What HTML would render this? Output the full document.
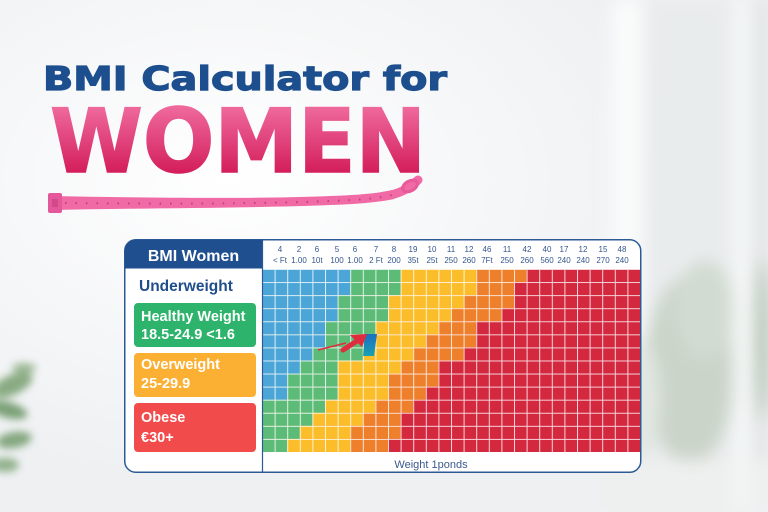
<!DOCTYPE html>
<html><head><meta charset="utf-8"><style>
html,body{margin:0;padding:0;background:#f1f2f4;width:768px;height:512px;overflow:hidden;}
svg{display:block;overflow:hidden;}
</style></head><body>
<svg width="768" height="512" viewBox="0 0 768 512" xmlns="http://www.w3.org/2000/svg">
<defs>
<filter id="b8" x="0" y="0" width="768" height="512" filterUnits="userSpaceOnUse"><feGaussianBlur stdDeviation="8"/></filter>
<filter id="b4" x="0" y="300" width="120" height="212" filterUnits="userSpaceOnUse"><feGaussianBlur stdDeviation="4"/></filter>
<radialGradient id="glow" cx="0.3" cy="0.35" r="0.6"><stop offset="0" stop-color="#ffffff"/><stop offset="1" stop-color="#eef0f2"/></radialGradient>
<linearGradient id="pink" x1="0" y1="108" x2="0" y2="172" gradientUnits="userSpaceOnUse"><stop offset="0" stop-color="#ee689c"/><stop offset="1" stop-color="#d41f5c"/></linearGradient>
<linearGradient id="teal" x1="0" y1="0" x2="0" y2="1"><stop offset="0" stop-color="#1d6ec2"/><stop offset="1" stop-color="#1aa2b2"/></linearGradient>
<pattern id="grid" patternUnits="userSpaceOnUse" x="262" y="269" width="12.6" height="13.07"><path d="M0 0.5H12.6M0.5 0V13.07" stroke="#ffffff" stroke-opacity="0.8" stroke-width="1" fill="none"/></pattern>
</defs>

<!-- background -->
<rect width="768" height="512" fill="url(#glow)"/>
<g filter="url(#b8)">
  <rect x="612" y="0" width="30" height="512" fill="#fafbfb"/>
  <rect x="645" y="0" width="88" height="512" fill="#e9eced"/>
  <rect x="733" y="0" width="20" height="512" fill="#f6f7f7"/>
  <rect x="753" y="0" width="15" height="512" fill="#e0e4e3"/>
  <ellipse cx="690" cy="370" rx="45" ry="95" fill="#cad4c9"/>
  <ellipse cx="705" cy="310" rx="30" ry="50" fill="#d2dbd1"/>
  <ellipse cx="762" cy="340" rx="6" ry="80" fill="#a7bba4"/>
  <ellipse cx="640" cy="400" rx="20" ry="60" fill="#e2e7e2"/>
  <rect x="600" y="460" width="168" height="52" fill="#eef0ef"/>
  <rect x="733" y="0" width="18" height="512" fill="#f4f6f6" opacity="0.7"/>
</g>
<g filter="url(#b4)" opacity="0.8">
  <ellipse cx="12" cy="385" rx="22" ry="10" fill="#6f9a66" transform="rotate(-25 12 385)"/>
  <ellipse cx="8" cy="410" rx="20" ry="8" fill="#5f8d58" transform="rotate(15 8 410)"/>
  <ellipse cx="14" cy="440" rx="18" ry="8" fill="#6a9563" transform="rotate(-10 14 440)"/>
  <ellipse cx="5" cy="465" rx="14" ry="7" fill="#7aa272"/>
  <ellipse cx="24" cy="368" rx="12" ry="5" fill="#86aa7e"/>
</g>

<!-- title -->
<text x="43" y="90" font-family="DejaVu Sans, Liberation Sans, sans-serif" font-weight="bold" font-size="33" fill="#1d4f8f" stroke="#1d4f8f" stroke-width="1.2" textLength="404" lengthAdjust="spacingAndGlyphs">BMI Calculator for</text>
<text x="50" y="172" font-family="DejaVu Sans, Liberation Sans, sans-serif" font-weight="bold" font-size="88" fill="url(#pink)" stroke="url(#pink)" stroke-width="1.5" textLength="376" lengthAdjust="spacingAndGlyphs">WOMEN</text>

<!-- tape measure -->
<path d="M52 196 C150 198 260 199 330 196 C360 195 380 193 392 190 L394 199 C380 202 360 204 330 205 C260 208 150 208 52 210 Z" fill="#f06aa6"/>
<path d="M385 196 C400 194 410 188 418 180" stroke="#f06aa6" stroke-width="9" fill="none" stroke-linecap="round"/>
<ellipse cx="410" cy="186" rx="8" ry="5" fill="none" stroke="#e85a9a" stroke-width="3" transform="rotate(-30 410 186)"/>
<path d="M65 203 C160 204 260 204 330 201 C360 200 380 198 392 195" stroke="#c63d7d" stroke-width="2" stroke-dasharray="1.5 9" fill="none"/>
<rect x="48" y="193" width="14" height="20" rx="2" fill="#e4579a"/>
<rect x="52" y="199" width="6" height="8" fill="#c43f7e" opacity="0.6"/>

<!-- panel -->
<rect x="124.75" y="239.75" width="516" height="232.5" rx="11" fill="#ffffff" stroke="#2c5a96" stroke-width="1.5"/>
<path d="M124.75 251 A11 11 0 0 1 135.75 239.75 H262 V268.5 H124.75 Z" fill="#1f4f8e"/>

<!-- grid colors -->
<rect x="262" y="269" width="378" height="183" fill="#d4283f"/>
<g transform="translate(262 269) scale(12.6 13.07)">
<g fill="#ee7f2b">
<rect x="0" y="0" width="21" height="1"/><rect x="0" y="1" width="20" height="1"/><rect x="0" y="2" width="20" height="1"/><rect x="0" y="3" width="19" height="1"/><rect x="0" y="4" width="17" height="1"/><rect x="0" y="5" width="17" height="1"/><rect x="0" y="6" width="16" height="1"/><rect x="0" y="7" width="14" height="1"/><rect x="0" y="8" width="14" height="1"/><rect x="0" y="9" width="13" height="1"/><rect x="0" y="10" width="12" height="1"/><rect x="0" y="11" width="11" height="1"/><rect x="0" y="12" width="11" height="1"/><rect x="0" y="13" width="10" height="1"/>
</g>
<g fill="#fbbd2a">
<rect x="0" y="0" width="17" height="1"/><rect x="0" y="1" width="17" height="1"/><rect x="0" y="2" width="16" height="1"/><rect x="0" y="3" width="15" height="1"/><rect x="0" y="4" width="14" height="1"/><rect x="0" y="5" width="13" height="1"/><rect x="0" y="6" width="12" height="1"/><rect x="0" y="7" width="11" height="1"/><rect x="0" y="8" width="10" height="1"/><rect x="0" y="9" width="10" height="1"/><rect x="0" y="10" width="9" height="1"/><rect x="0" y="11" width="8" height="1"/><rect x="0" y="12" width="7" height="1"/><rect x="0" y="13" width="7" height="1"/>
</g>
<g fill="#5dbb78">
<rect x="0" y="0" width="11" height="1"/><rect x="0" y="1" width="11" height="1"/><rect x="0" y="2" width="10" height="1"/><rect x="0" y="3" width="10" height="1"/><rect x="0" y="4" width="9" height="1"/><rect x="0" y="5" width="9" height="1"/><rect x="0" y="6" width="8" height="1"/><rect x="0" y="7" width="6" height="1"/><rect x="0" y="8" width="6" height="1"/><rect x="0" y="9" width="6" height="1"/><rect x="0" y="10" width="5" height="1"/><rect x="0" y="11" width="4" height="1"/><rect x="0" y="12" width="3" height="1"/><rect x="0" y="13" width="2" height="1"/>
</g>
<g fill="#4ba6d7">
<rect x="0" y="0" width="7" height="1"/><rect x="0" y="1" width="7" height="1"/><rect x="0" y="2" width="6" height="1"/><rect x="0" y="3" width="6" height="1"/><rect x="0" y="4" width="5" height="1"/><rect x="0" y="5" width="5" height="1"/><rect x="0" y="6" width="4" height="1"/><rect x="0" y="7" width="3" height="1"/><rect x="0" y="8" width="2" height="1"/><rect x="0" y="9" width="2" height="1"/>
</g>
</g>
<rect x="262" y="269" width="378" height="183" fill="url(#grid)"/>

<!-- highlighted cell + arrow -->
<polygon points="365,334 377,334 374,356 363,356" fill="url(#teal)"/>
<path d="M318 350 L346 343" stroke="#e12b3f" stroke-width="1.6" fill="none"/>
<path d="M343 350 L357 341" stroke="#e12b3f" stroke-width="5" fill="none" stroke-linecap="round"/>
<polygon points="367,334 350,335 355,340 362,347" fill="#e12b3f"/>

<!-- divider -->
<line x1="262.5" y1="240" x2="262.5" y2="472" stroke="#2c5a96" stroke-width="1.2"/>

<!-- column headers -->
<g font-family="Liberation Sans, sans-serif" font-size="8" fill="#34568c" text-anchor="middle">
<text x="280" y="252">4</text><text x="299" y="252">2</text><text x="317" y="252">6</text><text x="337" y="252">5</text><text x="355" y="252">6</text><text x="376" y="252">7</text><text x="394" y="252">8</text><text x="413" y="252">19</text><text x="432" y="252">10</text><text x="451" y="252">11</text><text x="469" y="252">12</text><text x="487" y="252">46</text><text x="507" y="252">11</text><text x="527" y="252">42</text><text x="547" y="252">40</text><text x="564" y="252">17</text><text x="583" y="252">12</text><text x="603" y="252">15</text><text x="622" y="252">48</text>
<text x="280" y="263">&lt; Ft</text><text x="299" y="263">1.00</text><text x="317" y="263">10t</text><text x="337" y="263">100</text><text x="355" y="263">1.00</text><text x="376" y="263">2 Ft</text><text x="394" y="263">200</text><text x="413" y="263">35t</text><text x="432" y="263">25t</text><text x="451" y="263">250</text><text x="469" y="263">260</text><text x="487" y="263">7Ft</text><text x="507" y="263">250</text><text x="527" y="263">260</text><text x="547" y="263">560</text><text x="564" y="263">240</text><text x="583" y="263">240</text><text x="603" y="263">270</text><text x="622" y="263">240</text>
</g>

<!-- left legend -->
<text x="193.5" y="261" text-anchor="middle" font-family="Liberation Sans, sans-serif" font-weight="bold" font-size="16" fill="#ffffff">BMI Women</text>
<text x="139" y="291" font-family="Liberation Sans, sans-serif" font-weight="bold" font-size="15.5" fill="#1f4e8c">Underweight</text>
<rect x="134" y="303" width="122" height="44" rx="4" fill="#2db36b"/>
<rect x="134" y="353" width="122" height="44" rx="4" fill="#fbb034"/>
<rect x="134" y="403" width="122" height="49" rx="4" fill="#f24b4b"/>
<g font-family="Liberation Sans, sans-serif" font-weight="bold" font-size="14.5" fill="#ffffff">
<text x="141" y="321">Healthy Weight</text>
<text x="141" y="339">18.5-24.9 &lt;1.6</text>
<text x="141" y="369">Overweight</text>
<text x="141" y="388">25-29.9</text>
<text x="141" y="422">Obese</text>
<text x="141" y="442">€30+</text>
</g>

<!-- x label -->
<text x="431" y="468" text-anchor="middle" font-family="Liberation Sans, sans-serif" font-size="11" fill="#3b5b8c">Weight 1ponds</text>
</svg>
</body></html>
